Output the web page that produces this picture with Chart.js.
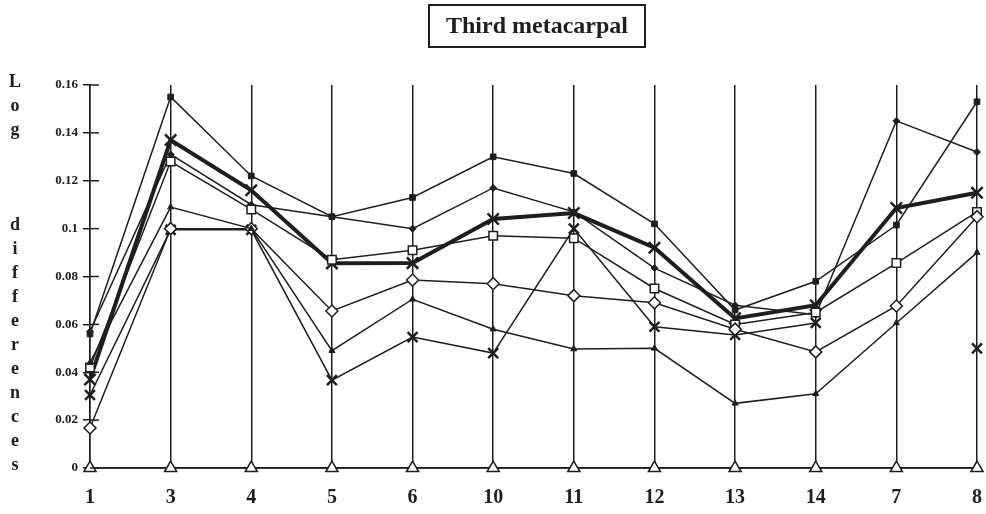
<!DOCTYPE html>
<html>
<head>
<meta charset="utf-8">
<script src="https://cdn.jsdelivr.net/npm/chart.js@4/dist/chart.umd.min.js"></script>
<style>
  html, body { margin: 0; padding: 0; background: #fff; }
  #wrap { width: 986px; height: 514px; }
</style>
</head>
<body>
<div id="wrap"><canvas id="myChart"></canvas></div>
<script>
// categories (bone / measurement order as printed on the x axis)
var categories = ['1', '3', '4', '5', '6', '10', '11', '12', '13', '14', '7', '8'];

// one series per marker type
var filledSquare  = [0.056, 0.155, 0.122, 0.105, 0.113, 0.130, 0.123, 0.102, 0.066, 0.078, 0.1015, 0.153];
var filledDiamond = [0.057, 0.131, 0.110, 0.105, 0.100, 0.117, 0.107, 0.0835, 0.068, 0.064, 0.145, 0.132];
var boldCross     = [0.037, 0.137, 0.116, 0.0855, 0.0856, 0.104, 0.1065, 0.092, 0.0625, 0.068, 0.1086, 0.115];
var openSquare    = [0.042, 0.128, 0.108, 0.087, 0.091, 0.097, 0.096, 0.075, 0.060, 0.065, 0.0856, 0.107];
var openDiamond   = [0.0167, 0.100, 0.100, 0.0656, 0.0785, 0.077, 0.072, 0.069, 0.058, 0.0485, 0.0677, 0.105];
var filledTri     = [0.044, 0.109, 0.100, 0.049, 0.0705, 0.058, 0.0497, 0.050, 0.027, 0.031, 0.0606, 0.090];
var barCross      = [0.0305, 0.0995, 0.0995, 0.0367, 0.0547, 0.048, 0.100, 0.059, 0.0556, 0.0606, null, 0.050];
var openTri       = [0, 0, 0, 0, 0, 0, 0, 0, 0, 0, 0, 0];

var yTickLabels = ['0', '0.02', '0.04', '0.06', '0.08', '0.1', '0.12', '0.14', '0.16'];
var titleText = 'Third metacarpal';
var yTitleRows = ['L', 'o', 'g', '', '', '', 'd', 'i', 'f', 'f', 'e', 'r', 'e', 'n', 'c', 'e', 's'];

var ink = '#1e1e1e';
var serif = '"Liberation Serif", "Times New Roman", serif';

function series(label, data, style, radius, fill, width, pointWidth) {
    return {
        label: label,
        data: data,
        borderColor: ink,
        borderWidth: width,
        pointStyle: style,
        pointRadius: radius,
        pointBackgroundColor: fill,
        pointBorderColor: ink,
        pointBorderWidth: pointWidth,
        fill: false,
        tension: 0,
        spanGaps: false,
        clip: 12
    };
}

var extras = {
    id: 'extras',
    afterDraw: function (chart) {
        var ctx = chart.ctx;
        var y = chart.scales.y;
        ctx.save();
        // inner half of the y tick marks
        ctx.strokeStyle = ink;
        ctx.lineWidth = 1.5;
        y.ticks.forEach(function (t) {
            var py = y.getPixelForValue(t.value);
            ctx.beginPath();
            ctx.moveTo(y.right, py);
            ctx.lineTo(y.right + 9, py);
            ctx.stroke();
        });
        // boxed title
        ctx.font = 'bold 24px ' + serif;
        ctx.fillStyle = ink;
        ctx.textAlign = 'center';
        ctx.textBaseline = 'middle';
        var cx = 537, cy = 27;
        var w = ctx.measureText(titleText).width;
        ctx.fillText(titleText, cx, cy);
        ctx.lineWidth = 2;
        ctx.strokeRect(cx - w / 2 - 17, 5, w + 34, 42);
        // stacked y axis title
        ctx.font = 'bold 18px ' + serif;
        var step = (y.bottom - 3 - (y.top - 3)) / (yTitleRows.length - 1);
        yTitleRows.forEach(function (ch, i) {
            ctx.fillText(ch, 15, y.top - 3 + i * step);
        });
        ctx.restore();
    }
};

var ctx = document.getElementById('myChart').getContext('2d');
var myChart = new Chart(ctx, {
    type: 'line',
    data: {
        labels: categories,
        datasets: [
            series('Open triangle', openTri, 'triangle', 7, '#fff', 1.5, 1.5),
            series('Filled triangle', filledTri, 'triangle', 3.5, ink, 1.5, 1),
            series('Open diamond', openDiamond, 'rectRot', 6, '#fff', 1.5, 1.5),
            series('Bar cross', barCross, 'crossRot', 7, ink, 1.5, 2.5),
            series('Open square', openSquare, 'rect', 6, '#fff', 1.5, 1.5),
            series('Filled diamond', filledDiamond, 'rectRot', 3.5, ink, 1.5, 1),
            series('Filled square', filledSquare, 'rect', 4, ink, 1.5, 1),
            series('Bold cross', boldCross, 'crossRot', 8, ink, 4, 2.5)
        ]
    },
    options: {
        responsive: true,
        maintainAspectRatio: false,
        animation: false,
        layout: { autoPadding: false, padding: { top: 85, right: 9, bottom: 2, left: 0 } },
        plugins: {
            legend: { display: false },
            title: { display: false },
            tooltip: { enabled: false }
        },
        scales: {
            x: {
                offset: false,
                grid: { color: ink, lineWidth: 1.5, drawTicks: false },
                border: { color: ink, width: 1.5 },
                ticks: {
                    color: ink,
                    padding: 18,
                    font: { family: serif, size: 20, weight: 'bold' }
                },
                afterFit: function (s) {
                    s.height = 44;
                    s.paddingRight = 0;
                    s.paddingLeft = 0;
                }
            },
            y: {
                min: 0,
                max: 0.16,
                grid: { drawOnChartArea: false, color: ink, lineWidth: 1.5, tickLength: 7 },
                border: { color: ink, width: 1.5 },
                ticks: {
                    stepSize: 0.02,
                    color: ink,
                    padding: 5,
                    font: { family: serif, size: 13, weight: 'bold' },
                    callback: function (v, i) { return yTickLabels[i]; }
                },
                afterFit: function (s) { s.width = 90; }
            }
        }
    },
    plugins: [extras]
});
</script>
</body>
</html>
